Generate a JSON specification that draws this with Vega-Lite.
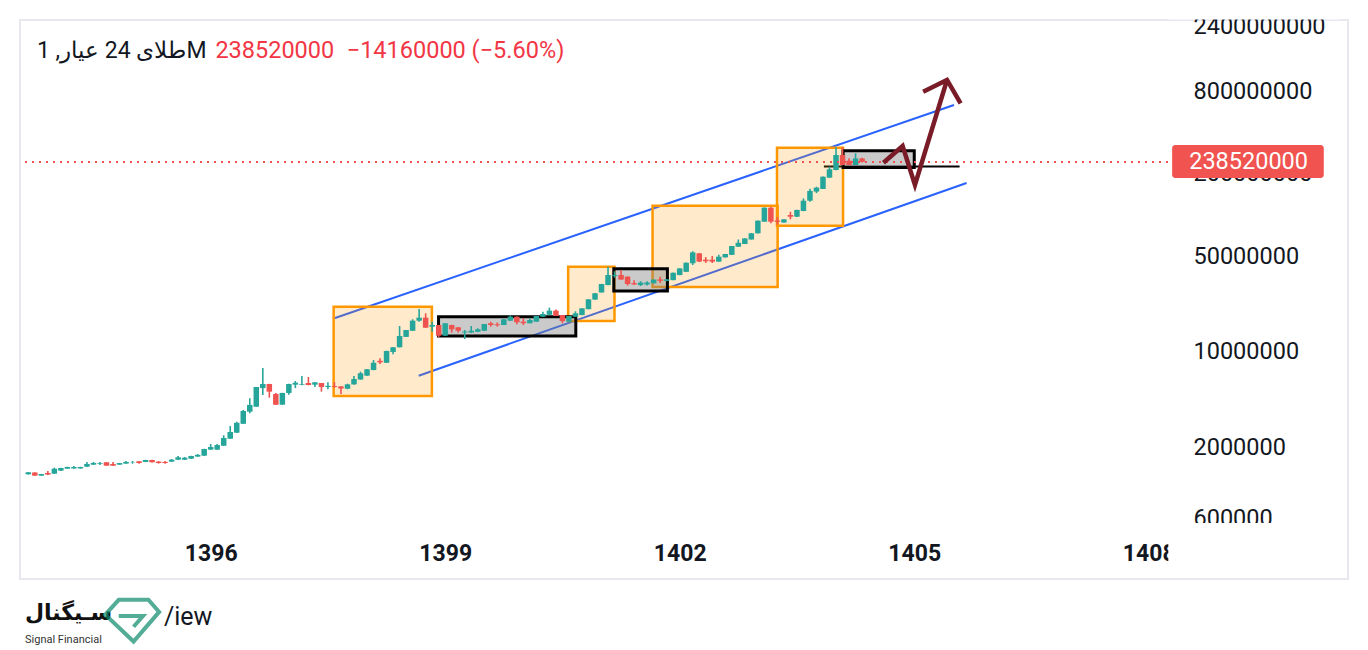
{
  "$schema": "https://vega.github.io/schema/vega-lite/v6.json",
  "width": 1328,
  "height": 559,
  "autosize": {"type": "none"},
  "padding": {"left": 20, "top": 20, "right": 20, "bottom": 71},
  "background": "#ffffff",
  "config": {
    "view": {"stroke": "#e6e8ee", "strokeWidth": 2},
    "font": "Roboto",
    "axis": {
      "grid": false, "domain": false, "ticks": false, "tickSize": 0, "labelPadding": 0,
      "labelColor": "#131722", "labelFontSize": 23, "labelFont": "Roboto"
    },
    "axisX": {"offset": -26, "labelFontWeight": "bold", "labelBaseline": "middle", "labelFlush": false, "labelOverlap": false, "labelBound": false},
    "axisY": {"labelAlign": "left", "labelBaseline": "middle", "labelFontSize": 23.5, "labelOffset": 1.5, "labelFlush": false, "labelOverlap": false, "labelBound": false}
  },
  "datasets": {
    "candles": [
      {"t": 1393.6667, "o": 1242000, "h": 1290000, "l": 1235000, "c": 1284000},
      {"t": 1393.75, "o": 1280000, "h": 1285000, "l": 1210000, "c": 1213000},
      {"t": 1393.8333, "o": 1213000, "h": 1250000, "l": 1210000, "c": 1247000},
      {"t": 1393.9167, "o": 1269000, "h": 1313000, "l": 1229000, "c": 1235000},
      {"t": 1394.0, "o": 1254000, "h": 1388000, "l": 1250000, "c": 1364000},
      {"t": 1394.0833, "o": 1320000, "h": 1385000, "l": 1315000, "c": 1380000},
      {"t": 1394.1667, "o": 1364000, "h": 1410000, "l": 1360000, "c": 1404000},
      {"t": 1394.25, "o": 1370000, "h": 1427000, "l": 1365000, "c": 1404000},
      {"t": 1394.3333, "o": 1370000, "h": 1410000, "l": 1365000, "c": 1404000},
      {"t": 1394.4167, "o": 1411000, "h": 1528000, "l": 1405000, "c": 1477000},
      {"t": 1394.5, "o": 1460000, "h": 1528000, "l": 1455000, "c": 1502000},
      {"t": 1394.5833, "o": 1477000, "h": 1528000, "l": 1453000, "c": 1495000},
      {"t": 1394.6667, "o": 1520000, "h": 1525000, "l": 1430000, "c": 1435000},
      {"t": 1394.75, "o": 1477000, "h": 1528000, "l": 1430000, "c": 1435000},
      {"t": 1394.8333, "o": 1460000, "h": 1505000, "l": 1455000, "c": 1500000},
      {"t": 1394.9167, "o": 1485000, "h": 1553000, "l": 1480000, "c": 1528000},
      {"t": 1395.0, "o": 1515000, "h": 1553000, "l": 1485000, "c": 1522000},
      {"t": 1395.0833, "o": 1545000, "h": 1550000, "l": 1485000, "c": 1502000},
      {"t": 1395.1667, "o": 1528000, "h": 1585000, "l": 1525000, "c": 1579000},
      {"t": 1395.25, "o": 1579000, "h": 1585000, "l": 1515000, "c": 1520000},
      {"t": 1395.3333, "o": 1536000, "h": 1553000, "l": 1485000, "c": 1502000},
      {"t": 1395.4167, "o": 1528000, "h": 1553000, "l": 1485000, "c": 1502000},
      {"t": 1395.5, "o": 1536000, "h": 1605000, "l": 1530000, "c": 1587000},
      {"t": 1395.5833, "o": 1587000, "h": 1690000, "l": 1580000, "c": 1653000},
      {"t": 1395.6667, "o": 1587000, "h": 1660000, "l": 1580000, "c": 1640000},
      {"t": 1395.75, "o": 1613000, "h": 1695000, "l": 1610000, "c": 1690000},
      {"t": 1395.8333, "o": 1672000, "h": 1744000, "l": 1665000, "c": 1724000},
      {"t": 1395.9167, "o": 1698000, "h": 1905000, "l": 1690000, "c": 1899000},
      {"t": 1396.0, "o": 1880000, "h": 2066000, "l": 1870000, "c": 1964000},
      {"t": 1396.0833, "o": 1880000, "h": 2066000, "l": 1870000, "c": 2031000},
      {"t": 1396.1667, "o": 2008000, "h": 2393000, "l": 2000000, "c": 2287000},
      {"t": 1396.25, "o": 2260000, "h": 2797000, "l": 2250000, "c": 2530000},
      {"t": 1396.3333, "o": 2500000, "h": 3006000, "l": 2490000, "c": 2955000},
      {"t": 1396.4167, "o": 2905000, "h": 3665000, "l": 2900000, "c": 3604000},
      {"t": 1396.5, "o": 3561000, "h": 4465000, "l": 3467000, "c": 3993000},
      {"t": 1396.5833, "o": 3874000, "h": 5400000, "l": 3860000, "c": 5397000},
      {"t": 1396.6667, "o": 5294000, "h": 7430000, "l": 4714000, "c": 5677000},
      {"t": 1396.75, "o": 5677000, "h": 5690000, "l": 4508000, "c": 4989000},
      {"t": 1396.8333, "o": 4800000, "h": 4882000, "l": 3990000, "c": 4007000},
      {"t": 1396.9167, "o": 4007000, "h": 4890000, "l": 4000000, "c": 4882000},
      {"t": 1397.0, "o": 4882000, "h": 5690000, "l": 4740000, "c": 5677000},
      {"t": 1397.0833, "o": 5610000, "h": 5970000, "l": 5294000, "c": 5802000},
      {"t": 1397.1667, "o": 5610000, "h": 6496000, "l": 5550000, "c": 5677000},
      {"t": 1397.25, "o": 5770000, "h": 6390000, "l": 5550000, "c": 5580000},
      {"t": 1397.3333, "o": 5610000, "h": 5850000, "l": 5390000, "c": 5840000},
      {"t": 1397.4167, "o": 5770000, "h": 5780000, "l": 4990000, "c": 5390000},
      {"t": 1397.5, "o": 5400000, "h": 5850000, "l": 5200000, "c": 5500000},
      {"t": 1397.5833, "o": 5470000, "h": 5850000, "l": 5330000, "c": 5390000},
      {"t": 1397.6667, "o": 5450000, "h": 5460000, "l": 4800000, "c": 5260000},
      {"t": 1397.75, "o": 5240000, "h": 5700000, "l": 5200000, "c": 5640000},
      {"t": 1397.8333, "o": 5640000, "h": 6500000, "l": 5600000, "c": 6170000},
      {"t": 1397.9167, "o": 6120000, "h": 6980000, "l": 6100000, "c": 6800000},
      {"t": 1398.0, "o": 6530000, "h": 7300000, "l": 6500000, "c": 7270000},
      {"t": 1398.0833, "o": 7180000, "h": 8490000, "l": 7150000, "c": 8110000},
      {"t": 1398.1667, "o": 8390000, "h": 8740000, "l": 7930000, "c": 8170000},
      {"t": 1398.25, "o": 8110000, "h": 9950000, "l": 8100000, "c": 9890000},
      {"t": 1398.3333, "o": 9730000, "h": 10600000, "l": 9370000, "c": 10530000},
      {"t": 1398.4167, "o": 10530000, "h": 15060000, "l": 10500000, "c": 12720000},
      {"t": 1398.5, "o": 12540000, "h": 14100000, "l": 12500000, "c": 14080000},
      {"t": 1398.5833, "o": 13900000, "h": 16870000, "l": 13850000, "c": 16470000},
      {"t": 1398.6667, "o": 16470000, "h": 20050000, "l": 16200000, "c": 17330000},
      {"t": 1398.75, "o": 17330000, "h": 18660000, "l": 14600000, "c": 14640000},
      {"t": 1398.8333, "o": 14900000, "h": 16200000, "l": 13670000, "c": 15320000},
      {"t": 1398.9167, "o": 15320000, "h": 15350000, "l": 12440000, "c": 12800000},
      {"t": 1399.0, "o": 12800000, "h": 15800000, "l": 12750000, "c": 15770000},
      {"t": 1399.0833, "o": 15320000, "h": 15350000, "l": 13480000, "c": 14250000},
      {"t": 1399.1667, "o": 14740000, "h": 14800000, "l": 13480000, "c": 13900000},
      {"t": 1399.25, "o": 13500000, "h": 14080000, "l": 12100000, "c": 13720000},
      {"t": 1399.3333, "o": 13500000, "h": 15060000, "l": 13450000, "c": 13900000},
      {"t": 1399.4167, "o": 13670000, "h": 14500000, "l": 13600000, "c": 14250000},
      {"t": 1399.5, "o": 13900000, "h": 15600000, "l": 13850000, "c": 15580000},
      {"t": 1399.5833, "o": 15770000, "h": 16200000, "l": 14900000, "c": 15320000},
      {"t": 1399.6667, "o": 15500000, "h": 16000000, "l": 14900000, "c": 15250000},
      {"t": 1399.75, "o": 15320000, "h": 16900000, "l": 15300000, "c": 16870000},
      {"t": 1399.8333, "o": 16470000, "h": 18000000, "l": 16400000, "c": 17620000},
      {"t": 1399.9167, "o": 17620000, "h": 17650000, "l": 15530000, "c": 16050000},
      {"t": 1400.0, "o": 16200000, "h": 17200000, "l": 15320000, "c": 15800000},
      {"t": 1400.0833, "o": 15800000, "h": 17100000, "l": 15750000, "c": 16670000},
      {"t": 1400.1667, "o": 16200000, "h": 17850000, "l": 16150000, "c": 17830000},
      {"t": 1400.25, "o": 17620000, "h": 19180000, "l": 17550000, "c": 18440000},
      {"t": 1400.3333, "o": 18200000, "h": 20500000, "l": 18150000, "c": 19500000},
      {"t": 1400.4167, "o": 19500000, "h": 19900000, "l": 17800000, "c": 17830000},
      {"t": 1400.5, "o": 18110000, "h": 18150000, "l": 15770000, "c": 16360000},
      {"t": 1400.5833, "o": 16200000, "h": 17850000, "l": 16150000, "c": 17830000},
      {"t": 1400.6667, "o": 17620000, "h": 19300000, "l": 17550000, "c": 18660000},
      {"t": 1400.75, "o": 18110000, "h": 20300000, "l": 18050000, "c": 20280000},
      {"t": 1400.8333, "o": 20000000, "h": 23650000, "l": 19950000, "c": 23600000},
      {"t": 1400.9167, "o": 23500000, "h": 26200000, "l": 23450000, "c": 26120000},
      {"t": 1401.0, "o": 26500000, "h": 30600000, "l": 26400000, "c": 30540000},
      {"t": 1401.0833, "o": 30000000, "h": 40850000, "l": 29900000, "c": 35540000},
      {"t": 1401.1667, "o": 35000000, "h": 37800000, "l": 34000000, "c": 35500000},
      {"t": 1401.25, "o": 35540000, "h": 38500000, "l": 32800000, "c": 32900000},
      {"t": 1401.3333, "o": 34600000, "h": 34700000, "l": 29700000, "c": 30540000},
      {"t": 1401.4167, "o": 31000000, "h": 32500000, "l": 30200000, "c": 30300000},
      {"t": 1401.5, "o": 30000000, "h": 32000000, "l": 29500000, "c": 31300000},
      {"t": 1401.5833, "o": 30300000, "h": 32000000, "l": 29800000, "c": 31300000},
      {"t": 1401.6667, "o": 30900000, "h": 33000000, "l": 30800000, "c": 32900000},
      {"t": 1401.75, "o": 33000000, "h": 34500000, "l": 31000000, "c": 32200000},
      {"t": 1401.8333, "o": 32200000, "h": 33200000, "l": 32000000, "c": 33000000},
      {"t": 1401.9167, "o": 32600000, "h": 37000000, "l": 32500000, "c": 36900000},
      {"t": 1402.0, "o": 35500000, "h": 39800000, "l": 35400000, "c": 39700000},
      {"t": 1402.0833, "o": 37500000, "h": 43800000, "l": 37400000, "c": 43700000},
      {"t": 1402.1667, "o": 43300000, "h": 53000000, "l": 42000000, "c": 52000000},
      {"t": 1402.25, "o": 51200000, "h": 51500000, "l": 44400000, "c": 44500000},
      {"t": 1402.3333, "o": 46000000, "h": 48000000, "l": 43500000, "c": 44800000},
      {"t": 1402.4167, "o": 46000000, "h": 49000000, "l": 43500000, "c": 44500000},
      {"t": 1402.5, "o": 44500000, "h": 50000000, "l": 44400000, "c": 48350000},
      {"t": 1402.5833, "o": 47800000, "h": 50700000, "l": 47700000, "c": 50600000},
      {"t": 1402.6667, "o": 49900000, "h": 58000000, "l": 49800000, "c": 57900000},
      {"t": 1402.75, "o": 57200000, "h": 64600000, "l": 57100000, "c": 61100000},
      {"t": 1402.8333, "o": 59900000, "h": 66000000, "l": 59800000, "c": 65800000},
      {"t": 1402.9167, "o": 64600000, "h": 72000000, "l": 64500000, "c": 71700000},
      {"t": 1403.0, "o": 71700000, "h": 89000000, "l": 71600000, "c": 88700000},
      {"t": 1403.0833, "o": 87200000, "h": 111000000, "l": 87000000, "c": 110300000},
      {"t": 1403.1667, "o": 110300000, "h": 112000000, "l": 85000000, "c": 87200000},
      {"t": 1403.25, "o": 89000000, "h": 94000000, "l": 83000000, "c": 87000000},
      {"t": 1403.3333, "o": 86000000, "h": 91000000, "l": 85500000, "c": 90700000},
      {"t": 1403.4167, "o": 97600000, "h": 103000000, "l": 90700000, "c": 94800000},
      {"t": 1403.5, "o": 94800000, "h": 106500000, "l": 94500000, "c": 106200000},
      {"t": 1403.5833, "o": 104400000, "h": 129000000, "l": 104000000, "c": 124100000},
      {"t": 1403.6667, "o": 124100000, "h": 152000000, "l": 122000000, "c": 146300000},
      {"t": 1403.75, "o": 144700000, "h": 157000000, "l": 141000000, "c": 154700000},
      {"t": 1403.8333, "o": 151200000, "h": 186500000, "l": 151000000, "c": 185900000},
      {"t": 1403.9167, "o": 182800000, "h": 220000000, "l": 182500000, "c": 210600000},
      {"t": 1404.0, "o": 208100000, "h": 305000000, "l": 207000000, "c": 267900000},
      {"t": 1404.0833, "o": 267900000, "h": 305000000, "l": 225000000, "c": 226400000},
      {"t": 1404.1667, "o": 243400000, "h": 253400000, "l": 226000000, "c": 226400000},
      {"t": 1404.25, "o": 226400000, "h": 275700000, "l": 226000000, "c": 252680000},
      {"t": 1404.3333, "o": 252680000, "h": 256000000, "l": 236000000, "c": 238520000}
    ],
    "boxes": [
      {"kind": "orange", "t": 1397.573, "t2": 1398.830, "v": 4638000, "v2": 20850000},
      {"kind": "gray", "t": 1398.915, "t2": 1400.671, "v": 12730000, "v2": 17620000},
      {"kind": "orange", "t": 1400.573, "t2": 1401.166, "v": 16390000, "v2": 40880000},
      {"kind": "gray", "t": 1401.157, "t2": 1401.843, "v": 27160000, "v2": 39520000},
      {"kind": "orange", "t": 1401.653, "t2": 1403.253, "v": 29050000, "v2": 114100000},
      {"kind": "orange", "t": 1403.245, "t2": 1404.090, "v": 81530000, "v2": 302900000},
      {"kind": "gray", "t": 1404.090, "t2": 1405.001, "v": 217100000, "v2": 288000000}
    ],
    "channel": [
      {"line": "upper", "t": 1397.582, "v": 17150000},
      {"line": "upper", "t": 1405.509, "v": 621700000},
      {"line": "lower", "t": 1398.661, "v": 6527000},
      {"line": "lower", "t": 1405.670, "v": 167300000}
    ],
    "arrow": [
      {"seg": "zigzag", "i": 0, "t": 1404.607, "v": 235300000},
      {"seg": "zigzag", "i": 1, "t": 1404.852, "v": 311800000},
      {"seg": "zigzag", "i": 2, "t": 1405.010, "v": 161700000},
      {"seg": "zigzag", "i": 3, "t": 1405.420, "v": 946700000},
      {"seg": "head", "i": 0, "t": 1405.115, "v": 777400000},
      {"seg": "head", "i": 1, "t": 1405.420, "v": 946700000},
      {"seg": "head", "i": 2, "t": 1405.594, "v": 639700000}
    ]
  },
  "layer": [
    {
      "data": {"name": "channel"},
      "mark": {"type": "line", "color": "#2962ff", "strokeWidth": 2},
      "encoding": {
        "x": {
          "field": "t", "type": "quantitative", "title": null,
          "scale": {"domain": [1393.6244, 1410.486], "nice": false, "zero": false},
          "axis": {"orient": "bottom", "values": [1396, 1399, 1402, 1405, 1408], "format": "d"}
        },
        "y": {
          "field": "v", "type": "quantitative", "title": null,
          "scale": {"type": "log", "domain": [213100, 2598000000], "nice": false},
          "axis": {"orient": "right", "offset": -155, "values": [600000, 2000000, 10000000, 50000000, 200000000, 800000000, 2400000000], "format": "d"}
        },
        "detail": {"field": "line"}
      }
    },
    {
      "data": {"values": [{"t": 1403.845, "t2": 1405.581, "v": 220800000}]},
      "mark": {"type": "rule", "color": "#000000", "strokeWidth": 2},
      "encoding": {
        "x": {"field": "t", "type": "quantitative", "title": null},
        "x2": {"field": "t2"},
        "y": {"field": "v", "type": "quantitative", "title": null}
      }
    },
    {
      "data": {"name": "boxes"},
      "transform": [{"filter": "datum.kind == 'orange'"}],
      "mark": {"type": "rect", "fill": "#ff9800", "fillOpacity": 0.2, "stroke": "#ff9800", "strokeWidth": 2.5},
      "encoding": {
        "x": {"field": "t", "type": "quantitative", "title": null},
        "x2": {"field": "t2"},
        "y": {"field": "v", "type": "quantitative", "title": null},
        "y2": {"field": "v2"}
      }
    },
    {
      "data": {"name": "boxes"},
      "transform": [{"filter": "datum.kind == 'gray'"}],
      "mark": {"type": "rect", "fill": "#808080", "fillOpacity": 0.42, "stroke": "#000000", "strokeWidth": 3},
      "encoding": {
        "x": {"field": "t", "type": "quantitative", "title": null},
        "x2": {"field": "t2"},
        "y": {"field": "v", "type": "quantitative", "title": null},
        "y2": {"field": "v2"}
      }
    },
    {
      "data": {"name": "candles"},
      "mark": {"type": "rule", "strokeWidth": 1.6},
      "encoding": {
        "x": {"field": "t", "type": "quantitative", "title": null},
        "y": {"field": "l", "type": "quantitative", "title": null},
        "y2": {"field": "h"},
        "color": {"condition": {"test": "datum.c >= datum.o", "value": "#26a69a"}, "value": "#ef5350"}
      }
    },
    {
      "data": {"name": "candles"},
      "mark": {"type": "bar", "size": 5.5},
      "encoding": {
        "x": {"field": "t", "type": "quantitative", "title": null},
        "y": {"field": "o", "type": "quantitative", "title": null},
        "y2": {"field": "c"},
        "color": {"condition": {"test": "datum.c >= datum.o", "value": "#26a69a"}, "value": "#ef5350"}
      }
    },
    {
      "data": {"values": [{"t": 1393.6244, "t2": 1408.251, "v": 238520000}]},
      "mark": {"type": "rule", "color": "#ef5350", "strokeWidth": 2, "strokeDash": [2, 5]},
      "encoding": {
        "x": {"field": "t", "type": "quantitative", "title": null},
        "x2": {"field": "t2"},
        "y": {"field": "v", "type": "quantitative", "title": null}
      }
    },
    {
      "data": {"name": "arrow"},
      "mark": {"type": "line", "color": "#7a1c28", "strokeWidth": 4.5, "strokeJoin": "miter", "strokeCap": "butt"},
      "encoding": {
        "x": {"field": "t", "type": "quantitative", "title": null},
        "y": {"field": "v", "type": "quantitative", "title": null},
        "detail": {"field": "seg"},
        "order": {"field": "i"}
      }
    },
    {
      "data": {"values": [{"t": 1408.30, "t2": 1410.24, "v": 181900000, "v2": 317100000}]},
      "mark": {"type": "rect", "fill": "#f05350", "cornerRadius": 3},
      "encoding": {
        "x": {"field": "t", "type": "quantitative", "title": null},
        "x2": {"field": "t2"},
        "y": {"field": "v", "type": "quantitative", "title": null},
        "y2": {"field": "v2"}
      }
    },
    {
      "data": {"values": [{"t": 1408.518, "v": 238520000, "label": "238520000"}]},
      "mark": {"type": "text", "color": "#ffffff", "fontSize": 23.5, "align": "left", "baseline": "middle", "font": "Roboto"},
      "encoding": {
        "x": {"field": "t", "type": "quantitative", "title": null},
        "y": {"field": "v", "type": "quantitative", "title": null},
        "text": {"field": "label"}
      }
    },
    {
      "data": {"values": [
        {"t": 1408.251, "t2": 1410.46, "v": 216700, "v2": 546900},
        {"t": 1408.251, "t2": 1410.46, "v": 2621000000, "v2": 3639000000}
      ]},
      "mark": {"type": "rect", "fill": "#ffffff"},
      "encoding": {
        "x": {"field": "t", "type": "quantitative", "title": null},
        "x2": {"field": "t2"},
        "y": {"field": "v", "type": "quantitative", "title": null},
        "y2": {"field": "v2"}
      }
    },
    {
      "data": {"values": [{"t": 1393.777, "v": 1542000000, "label": "طلای 24 عیار, 1M"}]},
      "mark": {"type": "text", "color": "#131722", "fontSize": 23, "align": "left", "baseline": "middle", "font": "Roboto"},
      "encoding": {
        "x": {"field": "t", "type": "quantitative", "title": null},
        "y": {"field": "v", "type": "quantitative", "title": null},
        "text": {"field": "label"}
      }
    },
    {
      "data": {"values": [
        {"t": 1396.06, "v": 1542000000, "label": "238520000"},
        {"t": 1397.74, "v": 1542000000, "label": "−14160000 (−5.60%)"}
      ]},
      "mark": {"type": "text", "color": "#f23645", "fontSize": 23.5, "align": "left", "baseline": "middle", "font": "Roboto"},
      "encoding": {
        "x": {"field": "t", "type": "quantitative", "title": null},
        "y": {"field": "v", "type": "quantitative", "title": null},
        "text": {"field": "label"}
      }
    },
    {
      "data": {"values": [{"t": 1393.6244, "v": 120000, "label": "سـیگنال"}]},
      "mark": {"type": "text", "color": "#111111", "fontSize": 22, "fontWeight": "bold", "align": "left", "baseline": "middle", "font": "DejaVu Sans"},
      "encoding": {
        "x": {"field": "t", "type": "quantitative", "title": null},
        "y": {"field": "v", "type": "quantitative", "title": null},
        "text": {"field": "label"}
      }
    },
    {
      "data": {"values": [{"t": 1393.6244, "v": 76300, "label": "Signal Financial"}]},
      "mark": {"type": "text", "color": "#333333", "fontSize": 11, "align": "left", "baseline": "middle", "font": "Roboto"},
      "encoding": {
        "x": {"field": "t", "type": "quantitative", "title": null},
        "y": {"field": "v", "type": "quantitative", "title": null},
        "text": {"field": "label"}
      }
    },
    {
      "data": {"values": [{"t": 1395.402, "v": 112400, "label": "/iew"}]},
      "mark": {"type": "text", "color": "#131722", "fontSize": 25, "align": "left", "baseline": "middle", "font": "Roboto"},
      "encoding": {
        "x": {"field": "t", "type": "quantitative", "title": null},
        "y": {"field": "v", "type": "quantitative", "title": null},
        "text": {"field": "label"}
      }
    },
    {
      "data": {"values": [{"t": 1394.996, "v": 106900}]},
      "mark": {
        "type": "point", "filled": false, "stroke": "#0a8a6a", "strokeWidth": 4, "size": 2900, "strokeJoin": "miter",
        "shape": "M-1,-0.2L-0.5,-0.75L0.6,-0.75L1,-0.3L0.05,0.8Z M-0.5,-0.15L0.4,-0.15L0.05,0.25"
      },
      "encoding": {
        "x": {"field": "t", "type": "quantitative", "title": null},
        "y": {"field": "v", "type": "quantitative", "title": null}
      }
    }
  ]
}
